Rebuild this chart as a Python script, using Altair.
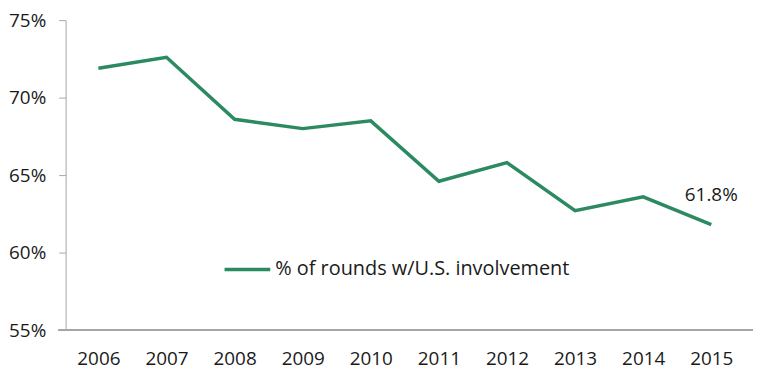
import altair as alt
import pandas as pd

years = ["2006", "2007", "2008", "2009", "2010", "2011", "2012", "2013", "2014", "2015"]
values = [71.9, 72.6, 68.6, 68.0, 68.5, 64.6, 65.8, 62.7, 63.6, 61.8]
series_name = "% of rounds w/U.S. involvement"
y_ticks = [55, 60, 65, 70, 75]

df = pd.DataFrame({"year": years, "value": values, "series": series_name})
last = df.tail(1).assign(label=lambda d: d["value"].map(lambda v: f"{v:.1f}%"))

FONT = "Open Sans"
GREEN = "#2b8a5f"
TXT = "#1a1a1a"
AXC = "#a6a6a6"
FS = 19
W, H = 692, 312

x = alt.X("year:N", sort=years, title=None,
          scale=alt.Scale(type="point", range=[33, 650], padding=0),
          axis=alt.Axis(labelAngle=0, ticks=False, grid=False, domain=False,
                        labelFontSize=FS, labelFont=FONT, labelColor=TXT, labelPadding=20))
y = alt.Y("value:Q", title=None,
          scale=alt.Scale(domain=[55, 75], nice=False, zero=False),
          axis=alt.Axis(values=y_ticks, labelExpr="datum.value + '%'", grid=False,
                        domainColor=AXC, tickColor=AXC, tickSize=7,
                        labelFontSize=FS, labelFont=FONT, labelColor=TXT, labelPadding=13))

line = alt.Chart(df).mark_line(strokeWidth=3.5).encode(
    x=x, y=y,
    color=alt.Color("series:N", scale=alt.Scale(range=[GREEN]),
                    legend=alt.Legend(title=None, orient="none", legendX=158, legendY=226,
                                      symbolType="stroke", symbolSize=2116, symbolStrokeWidth=3.5,
                                      labelFontSize=20, labelFont=FONT, labelColor=TXT,
                                      labelOffset=3, labelLimit=500))
)

baseline = alt.Chart(df).mark_rule(color=AXC, strokeWidth=1).encode(
    x=alt.value(-7), x2=alt.value(W), y=alt.YDatum(55)
)

label = alt.Chart(last).mark_text(dy=-30, fontSize=FS, font=FONT, color=TXT).encode(
    x=alt.X("year:N", sort=years), y="value:Q", text="label:N"
)

chart = (baseline + line + label).properties(
    width=W, height=H, padding={"left": 0, "top": 2, "right": 0, "bottom": 0}
).configure_view(stroke=None)

chart.save("out.html", embed_options={"renderer": "svg", "actions": False})
